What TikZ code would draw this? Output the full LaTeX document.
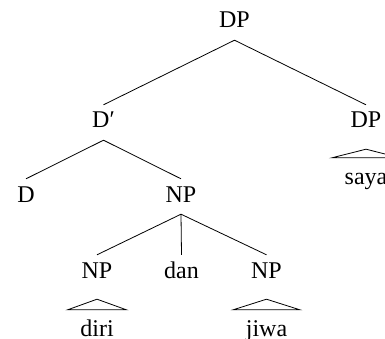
\documentclass[tikz,border=0pt]{standalone}
\usepackage{fontspec}
\setmainfont{Liberation Serif}
\begin{document}
\begin{tikzpicture}[x=1pt,y=-1pt,
  every node/.style={font=\fontsize{24}{28}\selectfont, anchor=base, inner sep=0pt},
  cat/.style={text height=16pt, text depth=5pt, inner ysep=7pt},
  leaf/.style={text height=16pt, text depth=5pt, inner ysep=10pt, inner xsep=12.5pt},
  branch/.style={line width=0.8pt},
  roof/.style={line width=0.8pt}]
\useasboundingbox (0,0) rectangle (385,339);
\clip (0,0) rectangle (385,339);

% category labels
\node[cat] (dp)   at (234.5,28)  {DP};
\node[cat] (dbar) at (103.5,128) {D′};
\node[cat] (dp2)  at (366,128)   {DP};
\node[cat] (d)    at (26,202)    {D};
\node[cat] (np)   at (181,202)   {NP};
\node[cat] (np1)  at (97,278)    {NP};
\node[cat] (dan)  at (181.5,278) {dan};
\node[cat] (np2)  at (266.5,278) {NP};

% words under roofs
\node[leaf] (diri) at (97,336)    {diri};
\node[leaf] (jiwa) at (266.5,336) {jiwa};
\node[leaf] (saya) at (366,184)   {saya};

% branches
\draw[branch] (dbar.north) -- (dp.south) -- (dp2.north);
\draw[branch] (d.north) -- (dbar.south) -- (np.north);
\draw[branch] (np1.north) -- (np.south) -- (np2.north);
\draw[branch] (np.south) -- (dan.north);

% roofs
\draw[roof] (diri.north west) -- ([yshift=-9pt]np1.south) -- (diri.north east) -- cycle;
\draw[roof] (jiwa.north west) -- ([yshift=-9pt]np2.south) -- (jiwa.north east) -- cycle;
\draw[roof] (saya.north west) -- ([yshift=-9pt]dp2.south) -- (saya.north east) -- cycle;
\end{tikzpicture}
\end{document}
